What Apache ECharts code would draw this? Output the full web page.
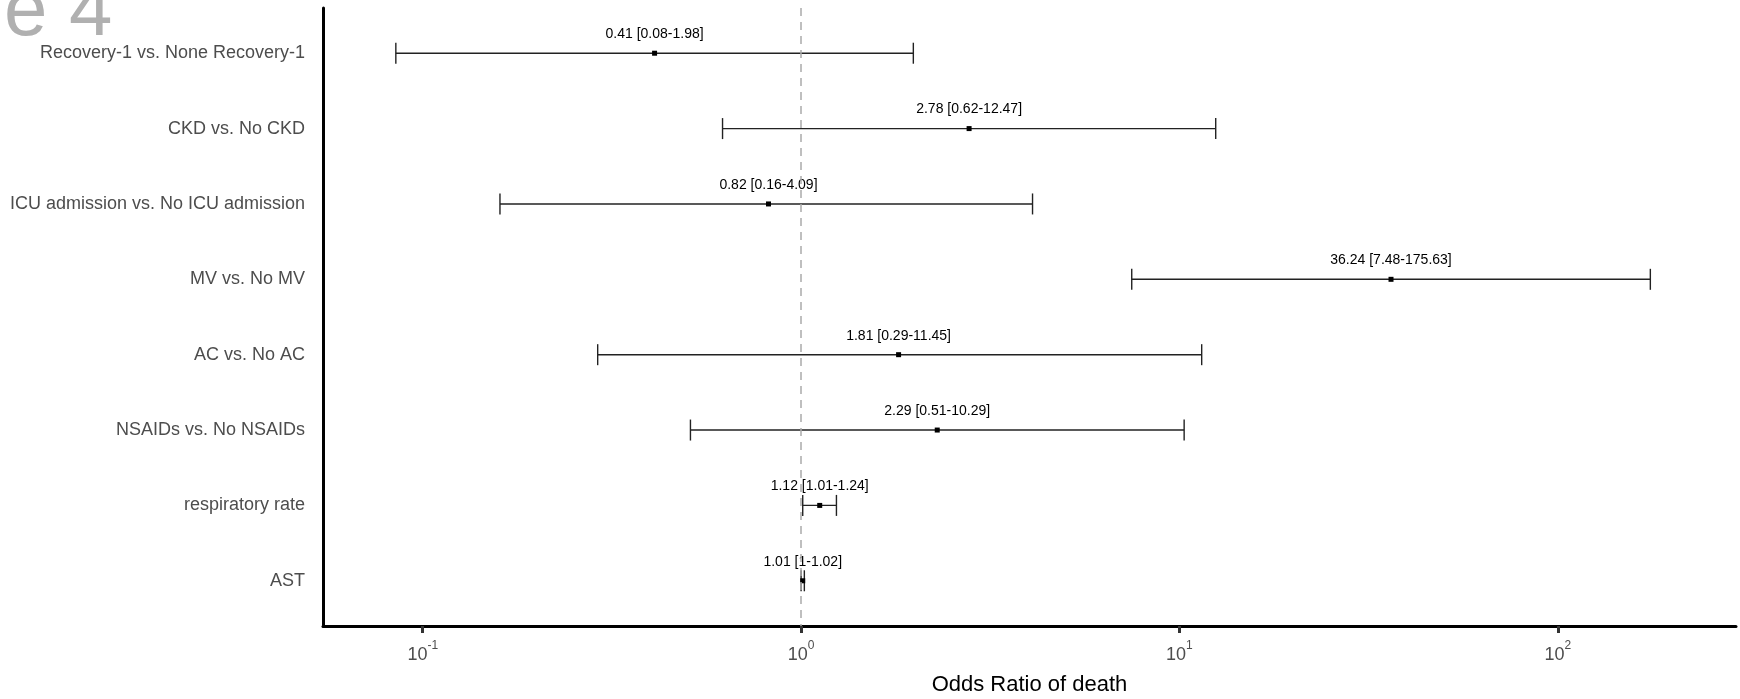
<!doctype html>
<html>
<head>
<meta charset="UTF-8">
<title>Figure 4</title>
<script src="https://cdn.jsdelivr.net/npm/echarts@6/dist/echarts.min.js"></script>
<style>
	html, body { margin: 0; padding: 0; background: #ffffff; }
	#main { width: 1740px; height: 699px; }
</style>
</head>
<body>
<div id="main"></div>
<script type="text/javascript">
	// rows, top to bottom
	var labels = ['Recovery-1 vs. None Recovery-1', 'CKD vs. No CKD', 'ICU admission vs. No ICU admission', 'MV vs. No MV',
		'AC vs. No AC', 'NSAIDs vs. No NSAIDs', 'respiratory rate', 'AST'];
	var orValues = [0.41, 2.78, 0.82, 36.24, 1.81, 2.29, 1.12, 1.01];
	var lowValues = [0.0849, 0.62, 0.16, 7.48, 0.29, 0.51, 1.01, 1];
	var highValues = [1.98, 12.47, 4.09, 175.63, 11.45, 10.29, 1.24, 1.02];
	var xTicks = [0.1, 1, 10, 100];
	var rowTicks = [1, 2, 3, 4, 5, 6, 7, 8];

	var font = 'Liberation Sans';

	function fmt(v) {
		return String(Math.round(v * 100) / 100);
	}

	var data = [];
	for (var i = 0; i < labels.length; i++) {
		data.push([lowValues[i], highValues[i], orValues[i], i + 1]);
	}

	function renderItem(params, api) {
		var row = api.value(3);
		var p0 = api.coord([api.value(0), row]);
		var p1 = api.coord([api.value(1), row]);
		var pm = api.coord([api.value(2), row]);
		var capH = 10.5;
		var st = { stroke: '#222222', lineWidth: 1.4 };
		var txt = fmt(api.value(2)) + ' [' + fmt(api.value(0)) + '-' + fmt(api.value(1)) + ']';
		return {
			type: 'group',
			children: [
				{ type: 'line', shape: { x1: p0[0], y1: p0[1], x2: p1[0], y2: p1[1] }, style: st },
				{ type: 'line', shape: { x1: p0[0], y1: p0[1] - capH, x2: p0[0], y2: p0[1] + capH }, style: st },
				{ type: 'line', shape: { x1: p1[0], y1: p1[1] - capH, x2: p1[0], y2: p1[1] + capH }, style: st },
				{ type: 'rect', shape: { x: pm[0] - 2.5, y: pm[1] - 2.5, width: 5, height: 5 }, style: { fill: '#000000' } },
				{ type: 'text', style: { x: pm[0], y: pm[1] - 19, text: txt, align: 'center', verticalAlign: 'middle',
					fontSize: 14, fontFamily: font, fill: '#000000' } }
			]
		};
	}

	var myChart = echarts.init(document.getElementById('main'));
	var option = {
		backgroundColor: '#ffffff',
		animation: false,
		textStyle: { fontFamily: font },
		graphic: [{
			type: 'text',
			left: 4,
			top: -26,
			style: { text: 'e 4', fontSize: 78, fontFamily: font, fill: '#b0b0b0' }
		}],
		grid: { left: 323, right: 4, top: 8, bottom: 73, containLabel: false, outerBoundsMode: 'none' },
		xAxis: {
			type: 'log',
			logBase: 10,
			min: 0.0545,
			max: 295.8,
			splitLine: { show: false },
			minorTick: { show: false },
			axisLine: { show: true, onZero: false, lineStyle: { color: '#000000', width: 3 } },
			axisTick: { show: true, length: 7, customValues: xTicks, lineStyle: { color: '#333333', width: 3 } },
			axisLabel: {
				customValues: xTicks,
				margin: 14,
				formatter: function (v) {
					return '{b|10}{s|' + Math.round(Math.log(v) / Math.LN10) + '}';
				},
				rich: {
					b: { fontSize: 18, color: '#4d4d4d', fontFamily: font, lineHeight: 24, verticalAlign: 'bottom' },
					s: { fontSize: 12, color: '#4d4d4d', fontFamily: font, lineHeight: 14, verticalAlign: 'top' }
				}
			},
			name: 'Odds Ratio of death',
			nameLocation: 'middle',
			nameGap: 48,
			nameTextStyle: { fontSize: 22, color: '#000000', fontFamily: font }
		},
		yAxis: {
			type: 'value',
			min: 0.4,
			max: 8.6,
			inverse: true,
			splitLine: { show: false },
			axisLine: { show: true, onZero: false, lineStyle: { color: '#000000', width: 3 } },
			axisTick: { show: false },
			axisLabel: {
				customValues: rowTicks,
				margin: 18,
				fontSize: 18,
				color: '#4d4d4d',
				formatter: function (v) { return labels[Math.round(v) - 1]; }
			}
		},
		series: [
			{
				type: 'scatter',
				z: 1,
				data: [],
				markLine: {
					silent: true,
					symbol: 'none',
					label: { show: false },
					lineStyle: { type: [8, 6], color: '#aaaaaa', width: 1.5 },
					data: [{ xAxis: 1 }]
				}
			},
			{
				type: 'custom',
				z: 3,
				renderItem: renderItem,
				encode: { x: [0, 1, 2], y: 3 },
				data: data
			}
		]
	};
	myChart.setOption(option);
</script>
</body>
</html>
